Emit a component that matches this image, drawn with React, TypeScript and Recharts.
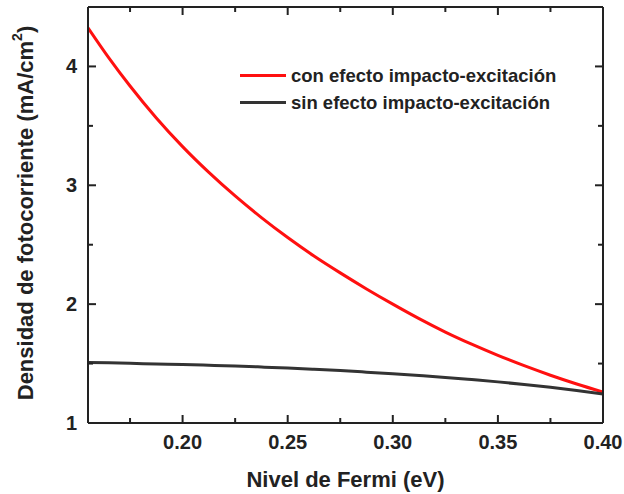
import { LineChart, Line, XAxis, YAxis, Legend } from 'recharts';

// Fermi level (eV) and photocurrent density (mA/cm2)
const fermi = [
  0.155, 0.165, 0.175, 0.1875, 0.2, 0.2125, 0.225, 0.2375, 0.25, 0.2625, 0.275,
  0.2875, 0.3, 0.3125, 0.325, 0.3375, 0.35, 0.3625, 0.375, 0.3875, 0.4,
];
const conEfecto = [
  4.325, 4.07, 3.835, 3.566, 3.325, 3.108, 2.91, 2.728, 2.56, 2.405, 2.263,
  2.128, 2.0, 1.878, 1.765, 1.663, 1.569, 1.482, 1.402, 1.328, 1.26,
];
const sinEfecto = [
  1.51, 1.506, 1.502, 1.497, 1.492, 1.486, 1.479, 1.471, 1.462, 1.452, 1.441,
  1.428, 1.414, 1.399, 1.383, 1.365, 1.346, 1.324, 1.3, 1.273, 1.243,
];

const xTicks = [0.175, 0.2, 0.225, 0.25, 0.275, 0.3, 0.325, 0.35, 0.375, 0.4];
const xMajor = [0.2, 0.25, 0.3, 0.35, 0.4];
const yTicks = [1, 1.5, 2, 2.5, 3, 3.5, 4];
const yMajor = [1, 2, 3, 4];

const data = fermi.map((x, i) => ({ x, con: conEfecto[i], sin: sinEfecto[i] }));

const FONT = '"Liberation Sans", Arial, sans-serif';
const INK = '#222';

const isMajor = (list: number[], v: number) => list.some((m) => Math.abs(m - v) < 1e-6);

// ticks point into the plot; labels only on bottom and left
function BottomTick({ x, y, payload }: any) {
  const major = isMajor(xMajor, payload.value);
  return (
    <g>
      <line x1={x} x2={x} y1={y} y2={y - (major ? 8 : 5)} stroke={INK} strokeWidth={2} />
      {major && (
        <text x={x} y={y + 26} textAnchor="middle" fontFamily={FONT} fontWeight="bold" fontSize={20} fill={INK}>
          {payload.value.toFixed(2)}
        </text>
      )}
    </g>
  );
}

function TopTick({ x, y, payload }: any) {
  const major = isMajor(xMajor, payload.value);
  return <line x1={x} x2={x} y1={y} y2={y + (major ? 8 : 5)} stroke={INK} strokeWidth={2} />;
}

function LeftTick({ x, y, payload }: any) {
  const major = isMajor(yMajor, payload.value);
  return (
    <g>
      <line x1={x} x2={x + (major ? 8 : 5)} y1={y} y2={y} stroke={INK} strokeWidth={2} />
      {major && (
        <text x={x - 11} y={y + 7} textAnchor="end" fontFamily={FONT} fontWeight="bold" fontSize={20} fill={INK}>
          {payload.value}
        </text>
      )}
    </g>
  );
}

function RightTick({ x, y, payload }: any) {
  const major = isMajor(yMajor, payload.value);
  return <line x1={x} x2={x - (major ? 8 : 5)} y1={y} y2={y} stroke={INK} strokeWidth={2} />;
}

function YTitle({ viewBox }: any) {
  const cx = viewBox.x + 25;
  const cy = viewBox.y + viewBox.height / 2 - 2;
  return (
    <text
      x={cx}
      y={cy}
      transform={`rotate(-90, ${cx}, ${cy})`}
      textAnchor="middle"
      dominantBaseline="central"
      fontFamily={FONT}
      fontWeight="bold"
      fontSize={22}
      fill={INK}
    >
      Densidad de fotocorriente (mA/cm
      <tspan dy={-8} fontSize={14}>2</tspan>
      <tspan dy={8}>)</tspan>
    </text>
  );
}

function XTitle({ viewBox }: any) {
  return (
    <text
      x={viewBox.x + viewBox.width / 2}
      y={viewBox.y + 64}
      textAnchor="middle"
      fontFamily={FONT}
      fontWeight="bold"
      fontSize={22}
      fill={INK}
    >
      Nivel de Fermi (eV)
    </text>
  );
}

function LegendBox({ payload }: any) {
  return (
    <div style={{ fontFamily: FONT, fontWeight: 'bold', fontSize: 18.5, color: INK }}>
      {(payload || []).map((p: any) => (
        <div key={p.value} style={{ display: 'flex', alignItems: 'center', height: 27 }}>
          <span style={{ display: 'inline-block', width: 46, height: 3, background: p.color, marginRight: 5 }} />
          {p.value}
        </div>
      ))}
    </div>
  );
}

export default function App() {
  return (
    <div style={{ position: 'absolute', left: 0, top: 0, background: '#fff' }}>
      <LineChart width={624} height={494} data={data} margin={{ top: 0, right: 0, bottom: 0, left: 0 }}>
        <XAxis
          xAxisId="bottom"
          dataKey="x"
          type="number"
          domain={[0.155, 0.4]}
          ticks={xTicks}
          height={71}
          tickSize={0}
          tickMargin={0}
          tickLine={false}
          axisLine={{ stroke: INK, strokeWidth: 2 }}
          tick={<BottomTick />}
          interval={0}
          allowDataOverflow
          label={<XTitle />}
        />
        <XAxis
          xAxisId="top"
          orientation="top"
          dataKey="x"
          type="number"
          domain={[0.155, 0.4]}
          ticks={xTicks}
          height={7}
          tickSize={0}
          tickMargin={0}
          tickLine={false}
          axisLine={{ stroke: INK, strokeWidth: 2 }}
          tick={<TopTick />}
          interval={0}
          allowDataOverflow
        />
        <YAxis
          yAxisId="left"
          type="number"
          domain={[1, 4.5]}
          ticks={yTicks}
          width={88}
          tickSize={0}
          tickMargin={0}
          tickLine={false}
          axisLine={{ stroke: INK, strokeWidth: 2 }}
          tick={<LeftTick />}
          interval={0}
          allowDataOverflow
          label={<YTitle />}
        />
        <YAxis
          yAxisId="right"
          orientation="right"
          type="number"
          domain={[1, 4.5]}
          ticks={yTicks}
          width={21}
          tickSize={0}
          tickMargin={0}
          tickLine={false}
          axisLine={{ stroke: INK, strokeWidth: 2 }}
          tick={<RightTick />}
          interval={0}
          allowDataOverflow
        />
        {/* centered vertical layout keeps the legend from taking plot space */}
        <Legend
          layout="vertical"
          align="center"
          verticalAlign="middle"
          content={<LegendBox />}
          wrapperStyle={{ position: 'absolute', left: 240, top: 62, width: 360, bottom: 'auto', right: 'auto' }}
        />
        <Line
          xAxisId="bottom"
          yAxisId="left"
          dataKey="con"
          name="con efecto impacto-excitación"
          type="monotone"
          stroke="#ff1010"
          strokeWidth={3}
          dot={false}
          isAnimationActive={false}
        />
        <Line
          xAxisId="bottom"
          yAxisId="left"
          dataKey="sin"
          name="sin efecto impacto-excitación"
          type="monotone"
          stroke="#333"
          strokeWidth={3}
          dot={false}
          isAnimationActive={false}
        />
      </LineChart>
    </div>
  );
}
